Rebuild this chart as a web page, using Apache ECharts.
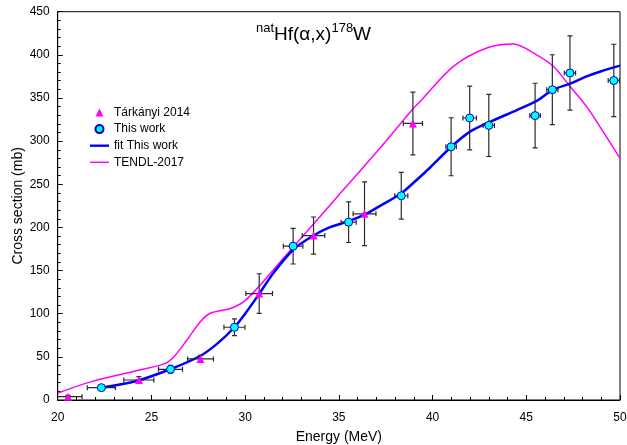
<!DOCTYPE html>
<html>
<head>
<meta charset="utf-8">
<script src="https://cdn.jsdelivr.net/npm/echarts@6/dist/echarts.min.js"></script>
<style>html,body{margin:0;padding:0;background:#fff}#c{width:627px;height:445px}</style>
</head>
<body>
<div id="c"></div>
<script>
// Tárkányi 2014 data
const tarE  = [20.55, 24.33, 27.62, 30.75, 33.65, 36.37, 38.95];
const tarY  = [3.9, 23.2, 47.6, 123.3, 190.6, 215.8, 320.5];
const tarDE = [0.75, 0.8, 0.69, 0.71, 0.6, 0.61, 0.51];
const tarDY = [1.5, 3.9, 4.0, 23, 21.5, 37, 36.4];
// This work data
const thisE  = [22.33, 26.02, 29.43, 32.56, 35.52, 38.33, 40.99, 41.98, 43.0, 45.47, 46.39, 47.33, 49.67];
const thisY  = [14.3, 35.6, 84.3, 178.3, 206.1, 236.7, 293.5, 326.8, 318.2, 329.6, 359.6, 379.0, 370.3];
const thisDE = [0.75, 0.64, 0.56, 0.52, 0.4, 0.35, 0.28, 0.36, 0.3, 0.28, 0.3, 0.3, 0.3];
const thisDY = [1.5, 4.5, 9.7, 20.7, 23.6, 27, 33.6, 36.9, 36, 37.5, 40.5, 43, 42];
// fit This work
const fitE = [22.33, 24.2, 26.0, 27.6, 28.5, 29.43, 30.0, 30.75, 31.5, 32.6, 33.6, 34.5, 35.5, 36.4, 37.2, 38.3, 39.0, 39.9, 41.0, 42.0, 43.0, 44.5, 45.5, 46.44, 47.33, 48.22, 49.0, 50.0];
const fitY = [14.3, 22, 35.6, 51, 65, 84.3, 100, 123, 147, 175, 190, 200, 207, 215, 225, 239, 252, 270, 293.5, 311, 321.7, 336, 346, 359.6, 366.6, 375, 381, 387.5];
// TENDL-2017
const tendlE = [20.0, 21.76, 24.42, 25.75, 26.2, 26.9, 27.62, 28.15, 29.2, 29.93, 30.8, 31.35, 33.0, 35.0, 37.12, 38.98, 39.34, 41.11, 42.89, 44.31, 45.55, 46.44, 47.33, 48.22, 49.1, 50.0];
const tendlY = [8, 21, 35, 42.5, 50, 69.6, 91, 100.5, 106, 114, 133, 147, 188, 237.5, 290, 338, 346, 386.7, 408, 412.6, 400, 386.7, 363.5, 340, 311, 280];
// axis ticks
const xTicks = {min: 20, max: 50, interval: 5};
const yTicks = {min: 0, max: 450, interval: 50};

const FONT = "'Liberation Sans', Arial, sans-serif";
const zip = (a, b) => a.map((v, i) => [v, b[i]]);

function errSeries(xs, ys, dx, dy) {
  return {
    type: 'custom', silent: true, z: 3, clip: true,
    encode: {x: 0, y: 1},
    data: xs.map((x, i) => [x, ys[i], dx[i], dy[i]]),
    renderItem: function (params, api) {
      const x = api.value(0), y = api.value(1), ex = api.value(2), ey = api.value(3);
      const l = api.coord([x - ex, y]), r = api.coord([x + ex, y]);
      const t = api.coord([x, y + ey]), b = api.coord([x, y - ey]);
      const cap = 2.5;
      const st = {stroke: '#2a2a2a', lineWidth: 1.2};
      const mk = (x1, y1, x2, y2) => ({type: 'line', shape: {x1, y1, x2, y2}, style: st});
      return {type: 'group', children: [
        mk(l[0], l[1], r[0], r[1]),
        mk(l[0], l[1] - cap, l[0], l[1] + cap),
        mk(r[0], r[1] - cap, r[0], r[1] + cap),
        mk(t[0], t[1], b[0], b[1]),
        mk(t[0] - cap, t[1], t[0] + cap, t[1]),
        mk(b[0] - cap, b[1], b[0] + cap, b[1])
      ]};
    }
  };
}

const chart = echarts.init(document.getElementById('c'), null, {renderer: 'canvas'});
const axisCommon = {
  type: 'value',
  axisLine: {show: true, onZero: false, lineStyle: {color: '#000', width: 1}},
  axisTick: {show: true, inside: true, length: 5, lineStyle: {color: '#000'}},
  minorTick: {show: true, splitNumber: 5, length: 3, lineStyle: {color: '#000'}},
  splitLine: {show: false},
  axisLabel: {color: '#000', fontSize: 12, fontFamily: FONT},
  nameLocation: 'middle',
  nameMoveOverlap: false,
  nameTextStyle: {color: '#000', fontSize: 14, fontFamily: FONT}
};
chart.setOption({
  animation: false,
  backgroundColor: '#fff',
  title: {
    left: 'center', top: 17,
    text: '{s|nat}{m|Hf(α,x)}{s|178}{m|W}',
    textStyle: {
      fontFamily: FONT, fontWeight: 'normal',
      rich: {
        m: {fontSize: 19, fontFamily: FONT, fontWeight: 'normal', color: '#000', verticalAlign: 'bottom', lineHeight: 22},
        s: {fontSize: 13, fontFamily: FONT, fontWeight: 'normal', color: '#000', verticalAlign: 'top', lineHeight: 13}
      }
    }
  },
  grid: {left: 57.7, right: 7, top: 11.7, bottom: 45, outerBoundsMode: 'none', containLabel: false,
    show: true, borderColor: '#000', borderWidth: 1, backgroundColor: 'transparent'},
  legend: {
    orient: 'vertical', left: 90, top: 106.5, padding: 0,
    itemWidth: 19, itemHeight: 8, itemGap: 4.6,
    textStyle: {fontSize: 12, fontFamily: FONT, color: '#000', lineHeight: 12},
    data: [
      {name: 'Tárkányi 2014', icon: 'path://M4,0L8,8L0,8Z'},
      {name: 'This work', icon: 'circle'},
      {name: 'fit This work', icon: 'path://M0,0L20,0L20,2.5L0,2.5Z'},
      {name: 'TENDL-2017', icon: 'path://M0,0L20,0L20,1.5L0,1.5Z'}
    ]
  },
  xAxis: Object.assign({}, axisCommon, xTicks, {name: 'Energy (MeV)', nameGap: 30,
    axisLabel: Object.assign({}, axisCommon.axisLabel, {margin: 12})}),
  yAxis: Object.assign({}, axisCommon, yTicks, {name: 'Cross section (mb)', nameGap: 33,
    axisLabel: Object.assign({}, axisCommon.axisLabel, {margin: 8})}),
  series: [
    {name: 'TENDL-2017', type: 'line', data: zip(tendlE, tendlY), smooth: 0.3, showSymbol: false, symbol: 'none',
     z: 2, lineStyle: {color: '#FF00FF', width: 1.5}, itemStyle: {color: '#FF00FF'}, clip: true},
    {name: 'fit This work', type: 'line', data: zip(fitE, fitY), smooth: 0.3, showSymbol: false, symbol: 'none',
     z: 2, lineStyle: {color: '#0000FF', width: 2.5}, itemStyle: {color: '#0000FF'}, clip: true},
    errSeries(tarE, tarY, tarDE, tarDY),
    errSeries(thisE, thisY, thisDE, thisDY),
    {name: 'Tárkányi 2014', type: 'scatter', data: zip(tarE, tarY), symbol: 'triangle', symbolSize: 8, z: 5,
     itemStyle: {color: '#FF00FF', opacity: 1}},
    {name: 'This work', type: 'scatter', data: zip(thisE, thisY), symbol: 'circle', symbolSize: 8, z: 5,
     itemStyle: {color: '#00FFFF', borderColor: '#0000CC', borderWidth: 1, opacity: 1}}
  ]
});
</script>
</body>
</html>
